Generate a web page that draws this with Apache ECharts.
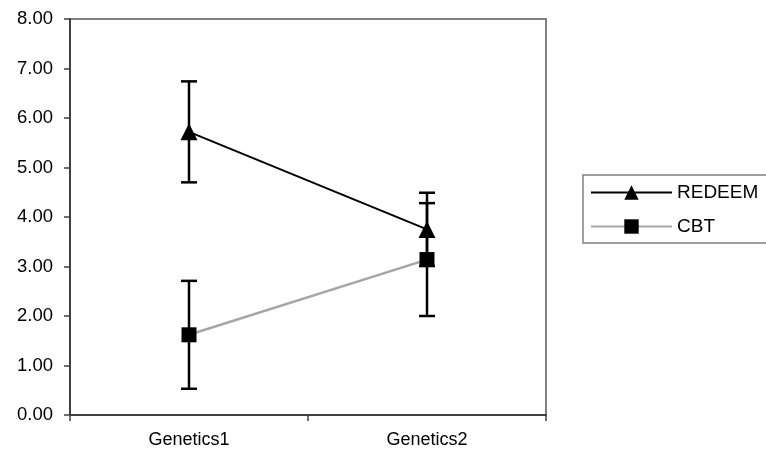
<!DOCTYPE html>
<html>
<head>
<meta charset="utf-8">
<script src="https://cdn.jsdelivr.net/npm/echarts@6/dist/echarts.min.js"></script>
<style>
html, body { margin: 0; padding: 0; background: #fff; }
#chart { width: 766px; height: 457px; }
</style>
</head>
<body>
<div id="chart"></div>
<script>
var categories = ['Genetics1', 'Genetics2'];
var redeem = [5.72, 3.75];
var redeemErr = [1.02, 0.74];
var cbt = [1.62, 3.14];
var cbtErr = [1.09, 1.14];

var myChart = echarts.init(document.getElementById('chart'));

// error bars: mean, +/- err
function errData(vals, errs) {
	var out = [];
	for (var i = 0; i < vals.length; i++) {
		out.push([i, vals[i] - errs[i], vals[i] + errs[i]]);
	}
	return out;
}

function renderErr(params, api) {
	var lo = api.coord([api.value(0), api.value(1)]);
	var hi = api.coord([api.value(0), api.value(2)]);
	var half = 8;
	var st = { stroke: '#000', lineWidth: 2.5 };
	return {
		type: 'group',
		children: [
			{ type: 'line', shape: { x1: lo[0], y1: lo[1], x2: hi[0], y2: hi[1] }, style: st },
			{ type: 'line', shape: { x1: lo[0] - half, y1: lo[1], x2: lo[0] + half, y2: lo[1] }, style: st },
			{ type: 'line', shape: { x1: hi[0] - half, y1: hi[1], x2: hi[0] + half, y2: hi[1] }, style: st }
		]
	};
}

myChart.setOption({
	animation: false,
	backgroundColor: '#fff',
	grid: {
		left: 70, right: 220, top: 19, bottom: 42,
		show: true, borderColor: '#808080', borderWidth: 2
	},
	legend: {
		orient: 'vertical',
		left: 583, top: 175,
		padding: [8, 30, 7, 7],
		itemWidth: 81, itemHeight: 18, itemGap: 15,
		borderColor: '#808080', borderWidth: 1.5,
		textStyle: { fontFamily: 'Liberation Sans', fontSize: 19, color: '#000' },
		data: ['REDEEM', 'CBT']
	},
	xAxis: {
		type: 'category',
		data: categories,
		boundaryGap: true,
		axisLine: { lineStyle: { color: '#404040', width: 2 } },
		axisTick: { show: true, length: 6, lineStyle: { color: '#404040', width: 1.5 } },
		axisLabel: { fontFamily: 'Liberation Sans', fontSize: 18, color: '#000', margin: 16 },
		splitLine: { show: false }
	},
	yAxis: {
		type: 'value',
		min: 0, max: 8, interval: 1,
		axisLine: { show: true, lineStyle: { color: '#404040', width: 2 } },
		axisTick: { show: true, length: 6, lineStyle: { color: '#404040', width: 1.5 } },
		axisLabel: {
			fontFamily: 'Liberation Sans', fontSize: 18.5, color: '#000', margin: 17,
			formatter: function (v) { return v.toFixed(2); }
		},
		splitLine: { show: false }
	},
	series: [{
		name: 'REDEEM',
		type: 'line',
		data: redeem,
		symbol: 'triangle',
		symbolSize: 17,
		itemStyle: { color: '#000' },
		lineStyle: { color: '#000', width: 2 },
		z: 3
	}, {
		name: 'CBT',
		type: 'line',
		data: cbt,
		symbol: 'rect',
		symbolSize: 15,
		itemStyle: { color: '#000', borderRadius: 2 },
		lineStyle: { color: '#a6a6a6', width: 2.5 },
		z: 3
	}, {
		type: 'custom',
		data: errData(redeem, redeemErr),
		renderItem: renderErr,
		z: 2,
		silent: true
	}, {
		type: 'custom',
		data: errData(cbt, cbtErr),
		renderItem: renderErr,
		z: 2,
		silent: true
	}]
});
</script>
</body>
</html>
